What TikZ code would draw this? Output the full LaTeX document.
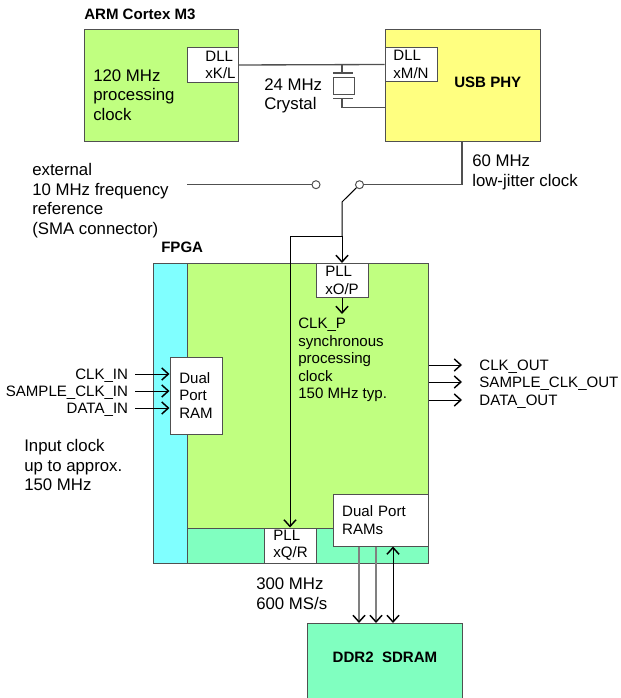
\documentclass[tikz,border=0pt]{standalone}
\usepackage{fontspec}
\setmainfont{Liberation Sans}
\usetikzlibrary{arrows.meta}
\definecolor{armgreen}{HTML}{C0FF80}
\definecolor{phyyellow}{HTML}{FFFF80}
\definecolor{inputcyan}{HTML}{80FFFF}
\definecolor{ramteal}{HTML}{80FFC0}
\definecolor{linegray}{HTML}{505050}
\tikzset{
    blockbox/.style 2 args={draw=linegray, line width=0.75pt, inner sep=0pt, minimum width=#1*0.75pt, minimum height=#2*0.75pt, align=left, font=\fontsize{11.3}{13}\selectfont},
    biglabel/.style={inner sep=0pt, anchor=west, align=left, font=\fontsize{12.6}{14.6}\selectfont},
    smalllabel/.style={inner sep=0pt, anchor=west, align=left, font=\fontsize{11.3}{13.2}\selectfont},
    boldlabel/.style={inner sep=0pt, font=\fontsize{11.3}{13.2}\selectfont\bfseries},
    iolabel/.style={inner xsep=3.5pt, inner ysep=0pt, font=\fontsize{11.3}{13.2}\selectfont},
    terminal/.style={draw=linegray, line width=0.75pt, circle, inner sep=0pt, minimum size=6pt},
    wire/.style={draw=linegray, line width=1pt},
    signal/.style={draw=black, line width=0.75pt, -{Straight Barb[length=5pt,width=9pt,line width=1.1pt,color=black]}},
}
\begin{document}
\begin{tikzpicture}[x=0.75pt, y=-0.75pt]
    \useasboundingbox (0,0) rectangle (620,698);

    % ARM and USB blocks
    \node[boldlabel, anchor=west] (armtitle) at (84,14) {ARM Cortex M3};
    \node[blockbox={154}{112}, fill=armgreen] (arm) at (161,86) {};
    \node[blockbox={51}{35}, fill=white] (armdll) at (212.5,65) {\hspace*{12pt}DLL\\\hspace*{12pt}xK/L};
    \node[biglabel] (armclock) at (93,95) {120 MHz\\processing\\clock};
    \node[blockbox={155}{112}, fill=phyyellow] (usb) at (462.5,86) {};
    \node[blockbox={52}{34}, fill=white] (usbdll) at (411,64.5) {DLL\\xM/N};
    \node[boldlabel, anchor=west] (usbname) at (454,82) {USB PHY};

    % Crystal
    \node[draw=linegray, line width=0.75pt, inner sep=0pt, minimum width=15.75pt, minimum height=12.75pt] (crystal) at (343.5,86.3) {};
    \coordinate (xtaltop) at (342,65);
    \coordinate (platetop) at (342,73);
    \coordinate (platebot) at (342,98.7);
    \coordinate (xtalbot) at (342,107.5);
    \coordinate (platetopl) at (333,73);
    \coordinate (platetopr) at (353,73);
    \coordinate (platebotl) at (333,98.7);
    \coordinate (platebotr) at (353,98.7);
    \node[biglabel] (xtallabel) at (264,96) {24 MHz\\Crystal};
    \draw[wire] (armdll.east) -- (usbdll.west);
    \draw[wire] (xtaltop) -- (platetop);
    \draw[wire] (platetopl) -- (platetopr);
    \draw[wire] (platebotl) -- (platebotr);
    \draw[wire] (platebot) -- (xtalbot) -- (xtalbot -| usb.west);

    % Clock selection
    \node[biglabel] (extref) at (32,200.5) {external\\10 MHz frequency\\reference\\(SMA connector)};
    \node[biglabel] (lowjitter) at (472,172.5) {60 MHz\\low-jitter clock};
    \coordinate (extend) at (187,184.7);
    \node[terminal] (termext) at (316,184.7) {};
    \node[terminal] (termusb) at (359.5,184.7) {};
    \coordinate (usbdrop) at (462,184.7);
    \coordinate (swbend) at (342,202);
    \coordinate (branch) at (342,236.5);
    \coordinate (branchleft) at (290,236.5);
    \draw[wire] (extend) -- (termext);
    \draw[wire] (usb.south -| usbdrop) -- (usbdrop) -- (termusb);

    % FPGA
    \node[boldlabel, anchor=west] (fpgatitle) at (161,247) {FPGA};
    \node[blockbox={275}{300}, fill=inputcyan] (fpga) at (290.5,413) {};
    \node[blockbox={241}{265}, fill=armgreen] (core) at (307.5,395.5) {};
    \node[blockbox={241}{35}, fill=ramteal] (lower) at (307.5,545.5) {};
    \node[blockbox={52}{34}, fill=white] (pllp) at (342,280.5) {PLL\\xO/P};
    \node[blockbox={52}{35}, fill=white] (pllq) at (290.5,545.5) {PLL\\xQ/R};
    \node[blockbox={52}{77}, fill=white] (inram) at (196,395.5) {Dual\\Port\\RAM};
    \node[blockbox={95}{52}, fill=white, text width=57.5pt] (outrams) at (380.5,520) {Dual Port\\RAMs};
    \node[smalllabel] (clkp) at (298,360) {CLK\_P\\synchronous\\processing\\clock\\150 MHz typ.};

    % Clock distribution
    \coordinate (clkpend) at (342,314);
    \draw[black, line width=0.75pt] (termusb) -- (swbend) -- (branch);
    \draw[signal] (branch) -- (pllp.north);
    \draw[signal] (branch) -- (branchleft) -- (pllq.north -| branchleft);
    \draw[signal] (pllp.south) -- (clkpend);

    % Inputs
    \node[iolabel, anchor=east] (clkin) at (133,375.5) {CLK\_IN};
    \node[iolabel, anchor=east] (sampin) at (133,392.5) {SAMPLE\_CLK\_IN};
    \node[iolabel, anchor=east] (datain) at (133,409.5) {DATA\_IN};
    \coordinate (clkinstart) at (135,374);
    \coordinate (sampinstart) at (135,391);
    \coordinate (datainstart) at (135,408);
    \draw[signal] (clkinstart) -- (clkinstart -| inram.west);
    \draw[signal] (sampinstart) -- (sampinstart -| inram.west);
    \draw[signal] (datainstart) -- (datainstart -| inram.west);
    \node[biglabel] (inputclock) at (24,465) {Input clock\\up to approx.\\150 MHz};

    % Outputs
    \node[iolabel, anchor=west] (clkout) at (474.5,366.5) {CLK\_OUT};
    \node[iolabel, anchor=west] (sampout) at (474.5,383.5) {SAMPLE\_CLK\_OUT};
    \node[iolabel, anchor=west] (dataout) at (474.5,401.5) {DATA\_OUT};
    \coordinate (clkoutend) at (462,365);
    \coordinate (sampoutend) at (462,382);
    \coordinate (dataoutend) at (462,400);
    \draw[signal] (clkoutend -| fpga.east) -- (clkoutend);
    \draw[signal] (sampoutend -| fpga.east) -- (sampoutend);
    \draw[signal] (dataoutend -| fpga.east) -- (dataoutend);

    % Memory
    \node[biglabel] (memrate) at (256,593.5) {300 MHz\\600 MS/s};
    \node[blockbox={155}{76}, fill=ramteal] (ddr) at (384.5,661) {};
    \node[boldlabel] (ddrname) at (385,657.5) {DDR2\ \ SDRAM};
    \coordinate (busa) at (359,623);
    \coordinate (busb) at (376,623);
    \coordinate (busc) at (393,623);
    \draw[signal, draw=gray, line width=1.1pt] (busa |- outrams.south) -- (busa);
    \draw[signal, draw=gray, line width=1.1pt] (busb |- outrams.south) -- (busb);
    \draw[signal, {Straight Barb[length=5pt,width=9pt,line width=1.1pt]}-{Straight Barb[length=5pt,width=9pt,line width=1.1pt]}] (busc |- outrams.south) -- (busc);
\end{tikzpicture}
\end{document}
